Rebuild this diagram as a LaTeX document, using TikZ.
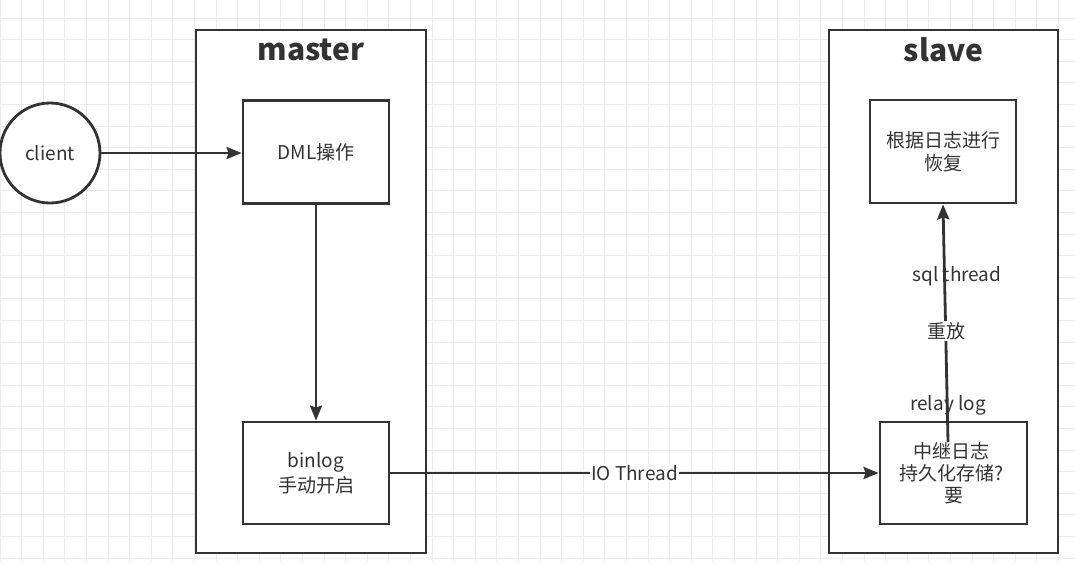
\documentclass[tikz,border=0pt]{standalone}
\usepackage{fontspec}
\setmainfont{Noto Sans CJK SC}
\usetikzlibrary{arrows.meta}
\definecolor{ink}{HTML}{333333}
\definecolor{gridc}{HTML}{EBEBEB}
\begin{document}
\begin{tikzpicture}[x=1pt,y=-1pt,
  line width=2.8pt,
  box/.style={draw=ink, fill=white, rectangle, inner sep=0pt, align=center, text=ink, font=\fontsize{19}{23}\selectfont},
  container/.style={draw=ink, fill=white, rectangle, inner sep=0pt},
  title/.style={text=ink, font=\fontsize{30}{34}\selectfont\bfseries},
  lbl/.style={text=ink, font=\fontsize{19}{22}\selectfont, inner sep=1pt},
  arr/.style={draw=ink, -{Stealth[length=15pt,width=12pt,inset=2pt]}}
]
\useasboundingbox (0,0) rectangle (1075,563);
\fill[white] (0,0) rectangle (1075,563);
\foreach \i in {0,...,50} {\draw[gridc, line width=0.9pt] (\i*21.6,0) -- (\i*21.6,563);}
\foreach \j in {0,...,26} {\draw[gridc, line width=0.9pt] (0,18+\j*21.6-21.6) -- (1075,18+\j*21.6-21.6);}

% containers
\node[container, minimum width=230pt, minimum height=523pt] (master) at (311,291.5) {};
\node[container, minimum width=229pt, minimum height=523pt] (slave) at (943.5,291.5) {};
\node[title] (mastert) at (311,50) {master};
\node[title] (slavet) at (943.5,50) {slave};

% client
\node[draw=ink, fill=white, circle, minimum size=100pt, inner sep=0pt, text=ink, font=\fontsize{19}{22}\selectfont] (client) at (50,153) {client};

% master boxes
\node[box, minimum width=146pt, minimum height=103pt] (dml) at (316,152) {DML操作};
\node[box, minimum width=146pt, minimum height=102pt, font=\fontsize{19}{25}\selectfont] (binlog) at (316,473) {binlog\\手动开启};

% slave boxes
\node[box, minimum width=146pt, minimum height=103pt] (rec) at (943,151.5) {根据日志进行\\恢复};
\node[box, minimum width=147pt, minimum height=102pt, font=\fontsize{19}{22}\selectfont] (relay) at (953.5,473) {\hspace*{-4pt}中继日志\\\hspace*{-4pt}持久化存储?\\要};
\node[lbl] (relayl) at (948,405) {relay log};

% connectors
\draw[arr] (client.east) -- (client.east -| dml.west);
\draw[arr] (dml.south) -- (binlog.north);
\draw[arr] (binlog.east) -- node[lbl, fill=white] (io) {IO Thread} (binlog.east -| relay.west);
\coordinate (sqlstart) at (948,442);
\draw[arr] (sqlstart) -- (rec.south);
\node[lbl] (sqlt) at (957,276) {sql thread};
\node[lbl, fill=white] (replay) at (946,331) {重放};
\end{tikzpicture}
\end{document}
